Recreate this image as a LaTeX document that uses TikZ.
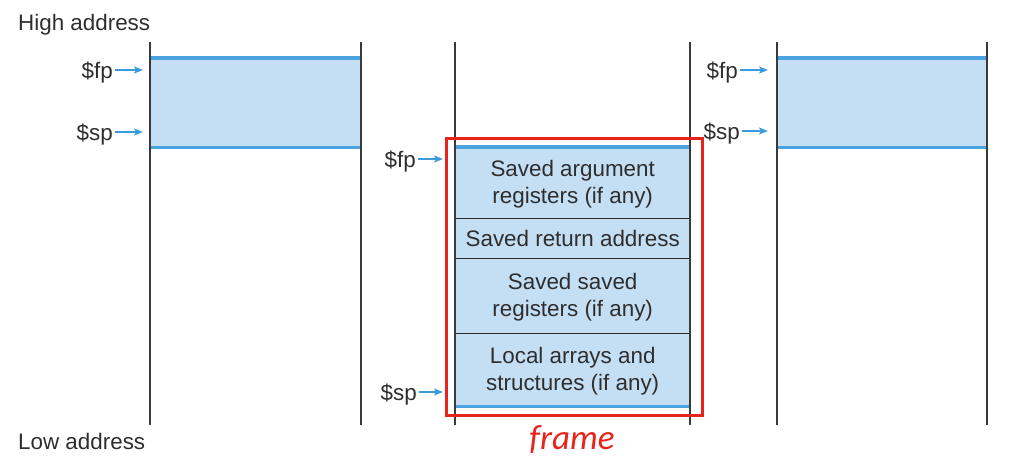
\documentclass[tikz,border=0pt]{standalone}
\usepackage{fontspec}
\setmainfont{Liberation Sans}
\newfontfamily\calfont{Carlito}
\usetikzlibrary{arrows.meta}
\definecolor{txt}{HTML}{2E2E2E}
\definecolor{cellfill}{HTML}{C4DEF3}
\definecolor{blueline}{HTML}{4AA3DF}
\definecolor{arrowblue}{HTML}{3D9BDB}
\definecolor{framered}{HTML}{E8231C}
\definecolor{colline}{HTML}{3A3A3A}
\tikzset{
  lbl/.style={font=\fontsize{22.4}{26}\selectfont, text=txt, inner sep=2pt, yshift=-3pt},
  colline/.style={draw=colline, line width=1.3pt},
  bline/.style={draw=blueline, line width=3.3pt},
  ptr/.style={draw=arrowblue, line width=1.3pt, -{Stealth[length=9pt,width=7pt,inset=2pt]}},
  cell/.style={fill=cellfill, draw=none, inner sep=0pt, anchor=north west},
  celltext/.style={font=\fontsize{22.4}{27}\selectfont, text=txt, align=center},
  divider/.style={draw=black!85, line width=1pt},
}
\begin{document}
\begin{tikzpicture}[x=1pt,y=-1pt]
\useasboundingbox (0,0) rectangle (1026,458);
% address labels
\node[lbl, anchor=west] (high) at (16,22) {High address};
\node[lbl, anchor=west] (low) at (16,438) {Low address};
% left column
\node[cell, minimum width=211pt, minimum height=89pt] (lblock) at (150,58) {};
\draw[bline] (lblock.north west) -- (lblock.north east);
\draw[bline] (lblock.south west) -- (lblock.south east);
\coordinate (l1t) at (150,42); \coordinate (l1b) at (150,425);
\coordinate (l2t) at (361,42); \coordinate (l2b) at (361,425);
\draw[colline] (l1t) -- (l1b);
\draw[colline] (l2t) -- (l2b);
\node[lbl, anchor=east] (lfp) at (115,70) {\$fp};
\coordinate (lfpt) at (143,70);
\draw[ptr] (lfp.east |- lfpt) -- (lfpt);
\node[lbl, anchor=east] (lsp) at (115,132) {\$sp};
\coordinate (lspt) at (143,132);
\draw[ptr] (lsp.east |- lspt) -- (lspt);
% middle column
\node[cell, minimum width=235pt, minimum height=71pt] (c1) at (455,147) {};
\node[cell, minimum width=235pt, minimum height=40pt] (c2) at (455,218) {};
\node[cell, minimum width=235pt, minimum height=75pt] (c3) at (455,258) {};
\node[cell, minimum width=235pt, minimum height=73pt] (c4) at (455,333) {};
\node[celltext, yshift=-2pt] (t1) at (c1.center) {Saved argument\\registers (if any)};
\node[celltext] (t2) at (c2.center) {Saved return address};
\node[celltext, yshift=-2pt] (t3) at (c3.center) {Saved saved\\registers (if any)};
\node[celltext, yshift=-2pt] (t4) at (c4.center) {Local arrays and\\structures (if any)};
\draw[divider] (c2.north west) -- (c2.north east);
\draw[divider] (c3.north west) -- (c3.north east);
\draw[divider] (c4.north west) -- (c4.north east);
\draw[bline] (c1.north west) -- (c1.north east);
\draw[bline] (c4.south west) -- (c4.south east);
\coordinate (m1t) at (455,42); \coordinate (m1b) at (455,425);
\coordinate (m2t) at (690,42); \coordinate (m2b) at (690,425);
\draw[colline] (m1t) -- (m1b);
\draw[colline] (m2t) -- (m2b);
\node[lbl, anchor=east] (mfp) at (418,159) {\$fp};
\coordinate (mfpt) at (443,159);
\draw[ptr] (mfp.east |- mfpt) -- (mfpt);
\node[lbl, anchor=east] (msp) at (419,392) {\$sp};
\coordinate (mspt) at (443,392);
\draw[ptr] (msp.east |- mspt) -- (mspt);
% red frame
\node[draw=framered, line width=3pt, inner sep=0pt, minimum width=256pt, minimum height=277pt, anchor=north west] (frame) at (445,137) {};
\node[font=\calfont\itshape\fontsize{35}{38}\selectfont, text=framered, inner sep=0pt, anchor=base] (framelbl) at (572,449) {frame};
% right column
\node[cell, minimum width=210pt, minimum height=89pt] (rblock) at (777,58) {};
\draw[bline] (rblock.north west) -- (rblock.north east);
\draw[bline] (rblock.south west) -- (rblock.south east);
\coordinate (r1t) at (777,42); \coordinate (r1b) at (777,425);
\coordinate (r2t) at (987,42); \coordinate (r2b) at (987,425);
\draw[colline] (r1t) -- (r1b);
\draw[colline] (r2t) -- (r2b);
\node[lbl, anchor=east] (rfp) at (740,70) {\$fp};
\coordinate (rfpt) at (768,70);
\draw[ptr] (rfp.east |- rfpt) -- (rfpt);
\node[lbl, anchor=east] (rsp) at (742,131) {\$sp};
\coordinate (rspt) at (768,131);
\draw[ptr] (rsp.east |- rspt) -- (rspt);
\end{tikzpicture}
\end{document}
